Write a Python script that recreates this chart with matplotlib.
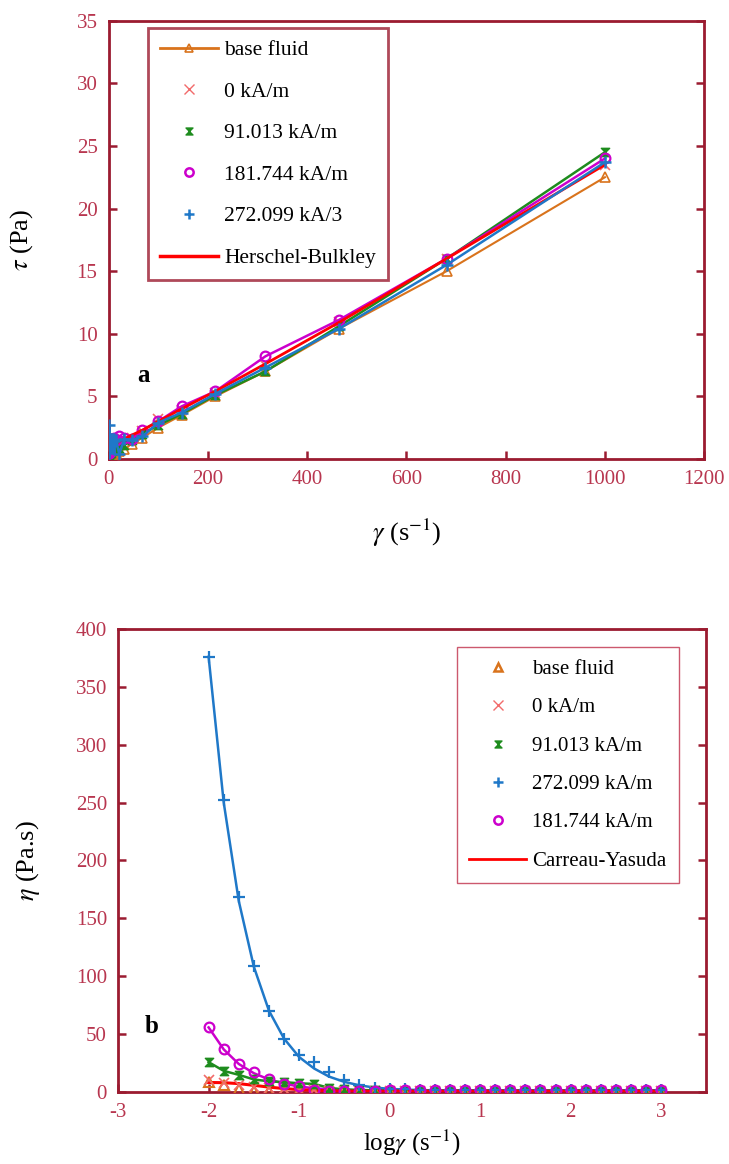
import matplotlib
matplotlib.use("Agg")
import matplotlib.pyplot as plt
from matplotlib.path import Path
from matplotlib.lines import Line2D

# ---------------- data ----------------
shear_rate = [0.01, 0.0147, 0.0215, 0.0316, 0.0464, 0.0681, 0.1, 0.147, 0.215, 0.316,
              0.464, 0.681, 1.0, 1.47, 2.15, 3.16, 4.64, 6.81, 10, 14.7, 21.5, 31.6,
              46.4, 68.1, 100, 147, 215, 316, 464, 681, 1000]
log_shear = [-2.0, -1.833, -1.667, -1.5, -1.333, -1.167, -1.0, -0.833, -0.667, -0.5,
             -0.333, -0.167, 0.0, 0.167, 0.333, 0.5, 0.667, 0.833, 1.0, 1.167, 1.333,
             1.5, 1.667, 1.833, 2.0, 2.167, 2.333, 2.5, 2.667, 2.833, 3.0]

# panel a: shear stress (Pa)
tau_base = [0.02, 0.03, 0.04, 0.05, 0.06, 0.07, 0.08, 0.09, 0.1, 0.1, 0.1, 0.12, 0.15,
            0.18, 0.22, 0.26, 0.3, 0.35, 0.4, 0.5, 0.6, 0.8, 1.2, 1.7, 2.5, 3.5, 5.0,
            7.0, 10.4, 15.0, 22.5]
tau_0 = [0.1, 0.1, 0.13, 0.15, 0.15, 0.15, 0.2, 0.25, 0.3, 0.35, 0.4, 0.45, 0.5, 0.6,
         0.7, 0.8, 0.9, 1.0, 1.1, 1.2, 1.3, 1.5, 1.7, 2.2, 3.2, 3.9, 5.3, 7.5, 10.9,
         16.0, 23.5]
tau_91 = [0.25, 0.26, 0.3, 0.33, 0.4, 0.5, 0.6, 0.7, 0.6, 0.55, 0.5, 0.5, 0.5, 0.5,
          0.5, 0.5, 0.5, 0.6, 0.7, 0.8, 0.9, 1.1, 1.5, 2.0, 2.7, 3.6, 5.1, 7.0, 10.6,
          16.0, 24.5]
tau_181 = [0.56, 0.54, 0.52, 0.55, 0.5, 0.46, 0.47, 0.5, 0.6, 0.8, 1.0, 1.2, 1.3, 1.4,
           1.5, 1.5, 1.6, 1.6, 1.7, 1.5, 1.8, 1.7, 1.6, 2.3, 3.0, 4.2, 5.4, 8.2, 11.1,
           16.0, 24.0]
tau_272 = [2.7, 2.0, 1.8, 1.5, 1.3, 1.0, 0.8, 0.7, 0.6, 0.5, 0.6, 0.7, 0.8, 0.9, 1.0,
           1.1, 1.2, 1.3, 1.4, 1.5, 0.4, 1.6, 1.5, 1.8, 2.9, 3.7, 5.2, 7.3, 10.4, 15.5,
           23.7]
tau_hb = [0.3, 0.3, 0.3, 0.3, 0.31, 0.31, 0.32, 0.33, 0.35, 0.37, 0.4, 0.44, 0.5, 0.55,
          0.62, 0.7, 0.8, 0.92, 1.05, 1.2, 1.4, 1.6, 1.9, 2.3, 3.0, 4.0, 5.4, 7.6, 10.9,
          16.0, 23.5]

# panel b: viscosity (Pa.s)
eta_base = [8.6, 6.0, 2.7, 0.7, 0.5, 0.3, 0.2, 0.1, 0.1, 0.1, 0.0, 0.0, 0.0, 0.0, 0.0,
            0.0, 0.0, 0.0, 0.0, 0.0, 0.0, 0.0, 0.0, 0.0, 0.0, 0.0, 0.0, 0.0, 0.0, 0.0, 0.0]
eta_0 = [10.0, 7.3, 6.0, 4.5, 3.0, 2.0, 1.5, 1.2, 1.0, 0.8, 0.8, 0.8, 0.8, 0.8, 0.8,
         0.8, 0.8, 0.8, 0.8, 0.8, 0.8, 0.8, 0.8, 0.8, 0.8, 0.8, 0.8, 0.8, 0.8, 0.8, 0.8]
eta_91 = [25.6, 18.0, 14.6, 10.6, 9.0, 8.3, 7.3, 6.7, 3.3, 2.0, 1.5, 1.2, 1.0, 1.0, 1.0,
          1.0, 1.0, 1.0, 1.0, 1.0, 1.0, 1.0, 1.0, 1.0, 1.0, 1.0, 1.0, 1.0, 1.0, 1.0, 1.0]
eta_272 = [376, 252, 168, 109, 70, 46, 32, 26, 17, 10.3, 5.5, 3.5, 2.5, 2.0, 1.6, 1.4,
           1.3, 1.2, 1.2, 1.1, 1.1, 1.1, 1.1, 1.1, 1.1, 1.1, 1.1, 1.1, 1.1, 1.1, 1.1]
eta_272_fit = [376, 250, 165, 108, 70, 46, 30, 20, 13, 8.5, 5.5, 3.6, 2.5, 1.8, 1.4,
               1.2, 1.1, 1.1, 1.1, 1.1, 1.1, 1.1, 1.1, 1.1, 1.1, 1.1, 1.1, 1.1, 1.1, 1.1, 1.1]
eta_181 = [55.6, 36.6, 24.0, 17.3, 10.6, 6.7, 4.7, 1.3, 0.3, 1.0, 1.0, 1.0, 1.2, 1.2,
           1.2, 1.2, 1.2, 1.2, 1.2, 1.2, 1.2, 1.2, 1.2, 1.2, 1.2, 1.2, 1.2, 1.2, 1.2, 1.2, 1.2]
eta_181_fit = [55.6, 36.6, 24.0, 16.0, 10.6, 7.0, 4.5, 3.0, 2.0, 1.5, 1.2, 1.1, 1.1, 1.1,
               1.1, 1.1, 1.1, 1.1, 1.1, 1.1, 1.1, 1.1, 1.1, 1.1, 1.1, 1.1, 1.1, 1.1, 1.1, 1.1, 1.1]
eta_cy = [8.0, 7.8, 7.0, 5.5, 4.0, 2.7, 1.8, 1.2, 0.8, 0.6, 0.5, 0.4, 0.4, 0.4, 0.4, 0.4,
          0.4, 0.4, 0.4, 0.4, 0.4, 0.4, 0.4, 0.4, 0.4, 0.4, 0.4, 0.4, 0.4, 0.4, 0.4]

labels_a = ["base fluid", "0 kA/m", "91.013 kA/m", "181.744 kA/m", "272.099 kA/3", "Herschel-Bulkley"]
labels_b = ["base fluid", "0 kA/m", "91.013 kA/m", "272.099 kA/m", "181.744 kA/m", "Carreau-Yasuda"]

# ---------------- style ----------------
plt.rcParams["font.family"] = ["Liberation Serif", "DejaVu Serif"]
plt.rcParams["mathtext.fontset"] = "stix"
plt.rcParams["axes.unicode_minus"] = False

SPINE = "#9B1B30"
TICKC = "#B8364F"
C_BASE = "#D9731C"
C_0 = "#F26B6B"
C_91 = "#1E8C1E"
C_181 = "#CC00CC"
C_272 = "#1F78C8"
C_FIT = "#FF0000"

hourglass = Path([(-1, 1), (1, 1), (-1, -1), (1, -1), (-1, 1)],
                 [Path.MOVETO, Path.LINETO, Path.LINETO, Path.LINETO, Path.CLOSEPOLY])

fig = plt.figure(figsize=(7.29, 11.64), dpi=100)
ax1 = fig.add_axes([0.149, 0.6057, 0.817, 0.3765])
ax2 = fig.add_axes([0.162, 0.0621, 0.807, 0.3975])


def style_axes(ax):
    for s in ax.spines.values():
        s.set_color(SPINE)
        s.set_linewidth(2.0)
    ax.tick_params(axis="both", direction="in", colors=SPINE, labelcolor=TICKC,
                   labelsize=15, length=6, width=1.8, pad=8)
    ax.tick_params(axis="y", right=True, left=True)
    ax.tick_params(axis="x", top=False, bottom=True)


# ---------------- panel a ----------------
ms = 7
ax1.plot(shear_rate, tau_base, color=C_BASE, lw=1.5, marker="^", ms=ms, mfc="none", mew=1.2, zorder=3)
ax1.plot(shear_rate, tau_0, color=C_0, lw=0, marker="x", ms=ms, mew=1.2, zorder=3)
ax1.plot(shear_rate, tau_91, color=C_91, lw=1.8, marker=hourglass, ms=6, zorder=4)
ax1.plot(shear_rate, tau_181, color=C_181, lw=1.8, marker="o", ms=ms, mfc="none", mew=1.6, zorder=5)
ax1.plot(shear_rate, tau_272, color=C_272, lw=1.8, marker="+", ms=ms + 1, mew=1.8, zorder=6)
ax1.plot(shear_rate, tau_hb, color=C_FIT, lw=2.0, zorder=5)

ax1.set_xlim(0, 1200)
ax1.set_ylim(0, 35)
ax1.set_xticks([0, 200, 400, 600, 800, 1000, 1200])
ax1.set_yticks([0, 5, 10, 15, 20, 25, 30, 35])
style_axes(ax1)
ax1.set_xlabel(r"$\gamma$ (s$^{-1}$)", fontsize=19, labelpad=20)
ax1.set_ylabel(r"$\tau$ (Pa)", fontsize=19, labelpad=30)
ax1.text(0.048, 0.19, "a", transform=ax1.transAxes, fontsize=18, fontweight="bold",
         ha="left", va="center")

handles_a = [
    Line2D([], [], color=C_BASE, lw=2, marker="^", ms=6, mfc="none", mew=1.2),
    Line2D([], [], color=C_0, lw=0, marker="x", ms=7, mew=1.0),
    Line2D([], [], color=C_91, lw=0, marker=hourglass, ms=5),
    Line2D([], [], color=C_181, lw=0, marker="o", ms=6, mfc="none", mew=1.8),
    Line2D([], [], color=C_272, lw=0, marker="+", ms=7, mew=1.8),
    Line2D([], [], color=C_FIT, lw=2.5),
]
leg1 = ax1.legend(handles_a, labels_a, loc="upper left", bbox_to_anchor=(0.066, 0.983),
                  fontsize=15.5, frameon=True, fancybox=False, edgecolor=SPINE,
                  handlelength=2.7, handletextpad=0.3, labelspacing=1.0,
                  borderpad=0.55, borderaxespad=0)
leg1.get_frame().set_linewidth(2.0)

# ---------------- panel b ----------------
ax2.plot(log_shear, eta_272_fit, color=C_272, lw=1.8, zorder=3)
ax2.plot(log_shear, eta_181_fit, color=C_181, lw=1.8, zorder=3)
ax2.plot(log_shear, eta_91, color=C_91, lw=1.8, zorder=3)
ax2.plot(log_shear, eta_cy, color=C_FIT, lw=2.2, zorder=4)
ax2.plot(log_shear, eta_base, color=C_BASE, lw=0, marker="^", ms=ms, mfc="none", mew=1.5, zorder=5)
ax2.plot(log_shear, eta_0, color=C_0, lw=0, marker="x", ms=ms, mew=1.2, zorder=5)
ax2.plot(log_shear, eta_91, color=C_91, lw=0, marker=hourglass, ms=6, zorder=5)
ax2.plot(log_shear, eta_272, color=C_272, lw=0, marker="+", ms=ms + 1, mew=1.6, zorder=6)
ax2.plot(log_shear, eta_181, color=C_181, lw=0, marker="o", ms=ms, mfc="none", mew=1.6, zorder=6)

ax2.set_xlim(-3, 3.5)
ax2.set_ylim(0, 400)
ax2.set_xticks([-3, -2, -1, 0, 1, 2, 3])
ax2.set_yticks([0, 50, 100, 150, 200, 250, 300, 350, 400])
style_axes(ax2)
ax2.set_xlabel(r"log$\gamma$ (s$^{-1}$)", fontsize=18, labelpad=4)
ax2.set_ylabel(r"$\eta$ (Pa.s)", fontsize=19, labelpad=24)
ax2.text(0.046, 0.14, "b", transform=ax2.transAxes, fontsize=18, fontweight="bold",
         ha="left", va="center")

handles_b = [
    Line2D([], [], color=C_BASE, lw=0, marker="^", ms=6, mfc="none", mew=1.8),
    Line2D([], [], color=C_0, lw=0, marker="x", ms=7, mew=1.0),
    Line2D([], [], color=C_91, lw=0, marker=hourglass, ms=5),
    Line2D([], [], color=C_272, lw=0, marker="+", ms=7, mew=1.8),
    Line2D([], [], color=C_181, lw=0, marker="o", ms=6, mfc="none", mew=1.8),
    Line2D([], [], color=C_FIT, lw=2.0),
]
leg2 = ax2.legend(handles_b, labels_b, loc="upper left", bbox_to_anchor=(0.576, 0.961),
                  fontsize=15, frameon=True, fancybox=False, edgecolor="#C0304A",
                  handlelength=2.7, handletextpad=0.3, labelspacing=0.9,
                  borderpad=0.6, borderaxespad=0)
leg2.get_frame().set_linewidth(1.0)

fig.savefig("out.png", dpi=100, facecolor="white")
